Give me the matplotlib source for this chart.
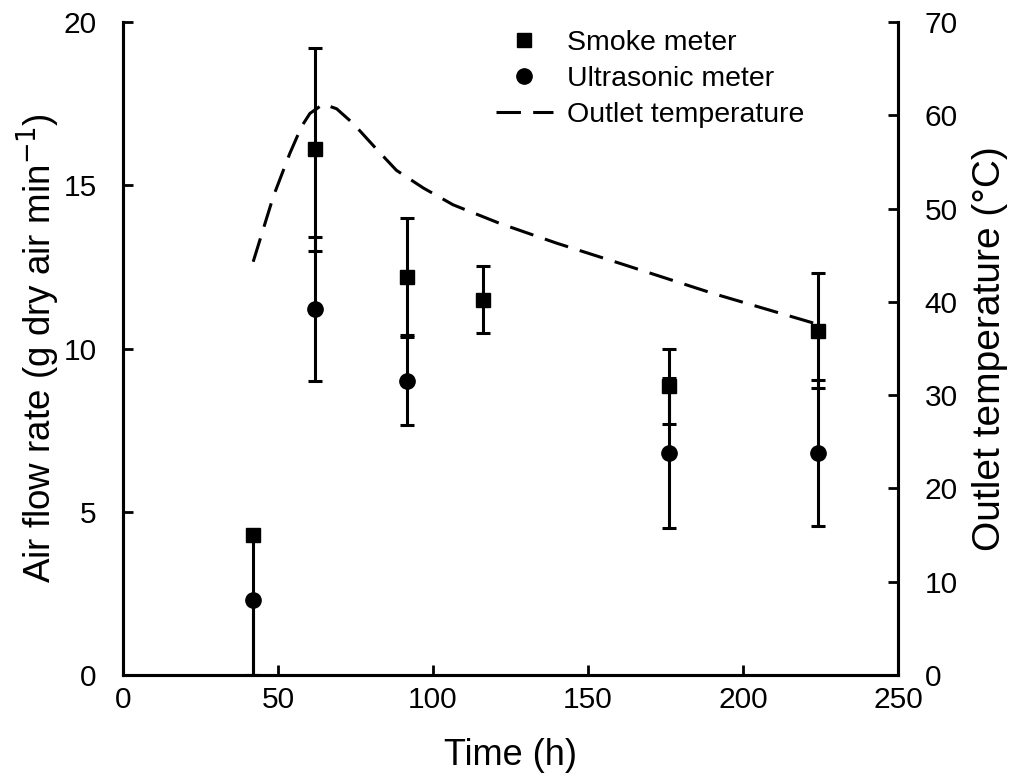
import matplotlib
matplotlib.use("Agg")
import matplotlib.pyplot as plt

plt.rcParams['font.family'] = ['Liberation Sans', 'DejaVu Sans']

# smoke meter readings
t_smoke = [42, 62, 91.5, 116, 176, 224]
flow_smoke = [4.3, 16.1, 12.2, 11.5, 8.85, 10.55]
err_smoke_lo = [4.3, 3.1, 1.8, 1.03, 1.15, 1.75]
err_smoke_hi = [0, 3.1, 1.8, 1.03, 1.15, 1.75]

# ultrasonic meter readings
t_ultra = [42, 62, 91.5, 176, 224]
flow_ultra = [2.3, 11.2, 9.0, 6.8, 6.8]
err_ultra_lo = [2.3, 2.2, 1.35, 2.3, 2.25]
err_ultra_hi = [0, 2.2, 1.35, 2.3, 2.25]

# outlet temperature curve
t_temp = [42, 48.5, 53.8, 57.6, 60.3, 64.6, 68.9, 74.3, 81.7, 88.2, 96.9,
          106.5, 121.6, 139.8, 162.4, 190.3, 224]
temp = [44.3, 51.3, 55.9, 58.8, 60.2, 61.2, 60.7, 59.1, 56.4, 54.1, 52.2,
        50.4, 48.4, 46.3, 43.9, 40.9, 37.6]

fig = plt.figure(figsize=(10.12, 7.8), dpi=100)
ax = fig.add_axes([0.1215, 0.1346, 0.766, 0.8372])
ax2 = ax.twinx()

ln, = ax2.plot(t_temp, temp, color='black', lw=2.2, linestyle=(0, (8, 4)),
               label='Outlet temperature')

sq = ax.errorbar(t_smoke, flow_smoke, yerr=[err_smoke_lo, err_smoke_hi],
                 fmt='s', color='black', ms=10, elinewidth=2.2, capsize=5,
                 capthick=2.2, label='Smoke meter', zorder=3)
ci = ax.errorbar(t_ultra, flow_ultra, yerr=[err_ultra_lo, err_ultra_hi],
                 fmt='o', color='black', ms=11, elinewidth=2.2, capsize=5,
                 capthick=2.2, label='Ultrasonic meter', zorder=3)

ax.set_zorder(ax2.get_zorder() + 1)
ax.patch.set_visible(False)

ax.set_xlim(0, 250)
ax.set_ylim(0, 20)
ax2.set_ylim(0, 70)
ax.set_xticks([0, 50, 100, 150, 200, 250])
ax.set_yticks([0, 5, 10, 15, 20])
ax2.set_yticks(range(0, 71, 10))

for a in (ax, ax2):
    a.spines['top'].set_visible(False)
    for s in a.spines.values():
        s.set_linewidth(2.2)
ax.tick_params(axis='both', direction='in', length=7, width=2, labelsize=21.5)
ax.tick_params(axis='y', pad=19)
ax.tick_params(axis='x', pad=8)
ax2.tick_params(axis='y', direction='in', length=7, width=2, labelsize=21.5, pad=19)

ax.set_xlabel('Time (h)', fontsize=26, labelpad=17)
ax.set_ylabel('Air flow rate (g dry air min$^{-1}$)', fontsize=26.5, labelpad=1)
ax2.set_ylabel('Outlet temperature (°C)', fontsize=28, labelpad=10)

handles = [sq[0], ci[0], ln]
labels = ['Smoke meter', 'Ultrasonic meter', 'Outlet temperature']
fig.legend(handles, labels, loc='upper left', bbox_to_anchor=(0.49, 0.962),
           frameon=False, fontsize=20.5, handlelength=2, handletextpad=0.5,
           labelspacing=0.35, borderpad=0, borderaxespad=0)

fig.savefig('out.png', dpi=100)
